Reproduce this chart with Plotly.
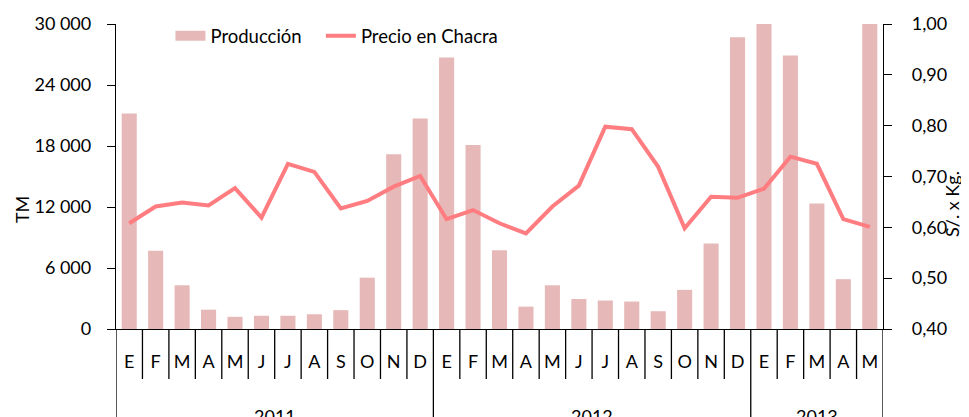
"""produccion y precio en chacra, 2011-2013"""

import plotly.graph_objects as go

years = ["2011"] * 12 + ["2012"] * 12 + ["2013"] * 5
months = ["E", "F", "M", "A", "M", "J", "J", "A", "S", "O", "N", "D",
          "E", "F", "M", "A", "M", "J", "J", "A", "S", "O", "N", "D",
          "E", "F", "M", "A", "M"]

produccion = [21200, 7700, 4300, 1900, 1200, 1300, 1300, 1450, 1850, 5050, 17200, 20700,
              26700, 18100, 7750, 2200, 4300, 2950, 2800, 2700, 1750, 3850, 8400, 28700,
              30600, 26900, 12350, 4900, 31000]

precio = [0.608, 0.641, 0.649, 0.643, 0.677, 0.619, 0.725, 0.709, 0.637, 0.652, 0.680, 0.701,
          0.616, 0.634, 0.608, 0.588, 0.641, 0.682, 0.798, 0.793, 0.719, 0.598, 0.660, 0.658,
          0.676, 0.739, 0.725, 0.616, 0.601]

# one unique category per month
keys = [f"{y}-{i}" for i, y in enumerate(years)]
n = len(keys)

bar_color = "#E6B8B7"
line_color = "#FF7C80"

fig = go.Figure()

fig.add_trace(go.Bar(
    x=keys, y=produccion, name="Producción", showlegend=False,
    marker=dict(color=bar_color, line=dict(width=0)),
))

# legend swatch for the bars (wide block like the original)
fig.add_trace(go.Scatter(
    x=[None], y=[None], name="Producción\u00a0\u00a0\u00a0", mode="lines",
    line=dict(color=bar_color, width=12),
))

fig.add_trace(go.Scatter(
    x=keys, y=precio, name="Precio en Chacra", yaxis="y2",
    mode="lines", line=dict(color=line_color, width=4),
))

# month separators and year dividers below the axis
shapes = []
year_starts = [i for i in range(n) if i == 0 or years[i] != years[i - 1]]
for i in range(n + 1):
    is_year = i in year_starts or i == n
    shapes.append(dict(
        type="line", xref="x", yref="paper", x0=i - 0.5, x1=i - 0.5,
        y0=0, y1=-0.33 if is_year else -0.164,
        line=dict(color="black", width=1.3),
    ))

annotations = []
bounds = year_starts + [n]
for a, b in zip(bounds[:-1], bounds[1:]):
    annotations.append(dict(
        x=(a + b - 1) / 2, y=-0.243, xref="x", yref="paper", text=years[a],
        showarrow=False, yanchor="top", font=dict(size=18),
    ))

annotations.append(dict(x=-0.1226, y=0.393, xref="paper", yref="paper", text="TM",
                        showarrow=False, textangle=-90, xanchor="center", yanchor="middle",
                        font=dict(size=18)))
annotations.append(dict(x=1.09, y=0.41, xref="paper", yref="paper", text="S/. x Kg.",
                        showarrow=False, textangle=-90, xanchor="center", yanchor="middle",
                        font=dict(size=18)))

fig.update_layout(
    width=969, height=417,
    margin=dict(l=108, r=94, t=16, b=96, autoexpand=False),
    paper_bgcolor="white", plot_bgcolor="white",
    font=dict(family="Lato, Open Sans, sans-serif", size=18, color="black"),
    separators=", ",
    bargap=0.43,
    showlegend=True,
    legend=dict(orientation="h", x=0.071, y=0.96, xanchor="left", yanchor="middle",
                bgcolor="rgba(0,0,0,0)", font=dict(size=18.5)),
    shapes=shapes,
    annotations=annotations,
    xaxis=dict(type="category", range=[-0.5, n - 0.5], tickmode="array",
               tickvals=keys, ticktext=months, ticks="", showline=True,
               linecolor="black", linewidth=1.3, ticklabelstandoff=16,
               showgrid=False, automargin=False),
    yaxis=dict(range=[0, 30000], dtick=6000, tickformat=",d", showgrid=False,
               showline=True, linecolor="black", linewidth=1.3, ticks="outside",
               ticklen=8, tickcolor="black", zeroline=False, ticklabelstandoff=12,
               automargin=False),
    yaxis2=dict(range=[0.4, 1.0], dtick=0.1, tickformat=".2f", overlaying="y", side="right",
                showgrid=False, showline=True, linecolor="black", linewidth=1.3,
                ticks="outside", ticklen=8, tickcolor="black", zeroline=False,
                ticklabelstandoff=16, automargin=False),
)

fig.write_html("out.html")
